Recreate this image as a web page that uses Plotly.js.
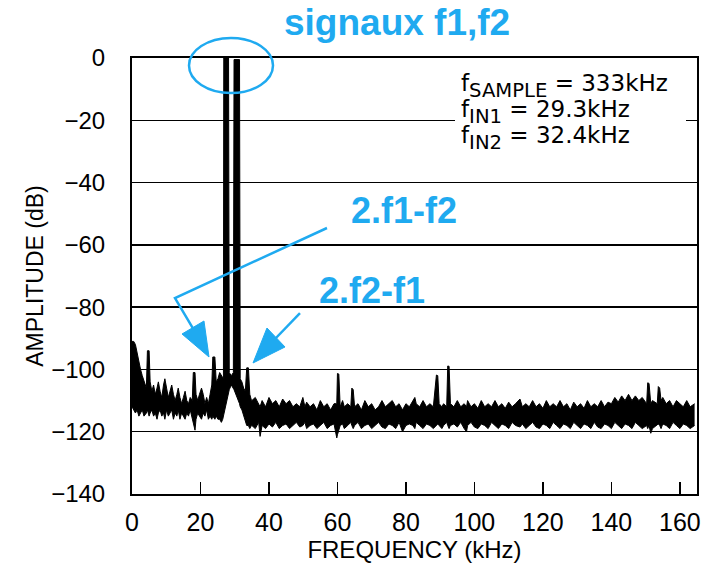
<!DOCTYPE html>
<html>
<head>
<meta charset="utf-8">
<script src="https://cdn.plot.ly/plotly-3.0.1.min.js"></script>
<style>
html,body{margin:0;padding:0;background:#fff;}
#chart{width:715px;height:568px;}
</style>
</head>
<body>
<div id="chart"></div>
<script>
// ---- Data ----
// Frequency points (kHz)
const freqKHz = [
  0, 0.5, 1, 1.5, 2, 2.5, 3, 3.5,
  4.2, 4.5, 5.0, 5.3, 5.8, 6.3, 6.8, 7.3, 7.7, 8.2,
  8.7, 9.2, 9.6, 10.1, 10.6, 11.1, 11.6, 12.1, 12.6, 13.1,
  13.5, 14, 14.5, 15, 15.5, 16, 16.5, 17, 17.6, 17.9,
  18.4, 18.7, 19.2, 19.7, 20.3, 20.8, 21.3, 21.8, 22.3, 22.8,
  23.3, 23.6, 24.2, 24.6, 25.1, 25.6, 26.1, 26.5, 26.7, 26.8,
  28.2, 28.4, 29.0, 29.6, 29.8, 31.4, 31.6, 32.1, 32.6, 33.1,
  33.5, 34.0, 34.4, 34.9,
  35, 36, 37, 37.4, 38, 39, 40, 41, 42, 43,
  44, 45, 46, 47, 48, 49, 49.9, 50.5, 51, 52,
  53, 54, 55, 56, 57, 58, 59, 59.8, 60.0, 60.4,
  60.8, 61.5, 62, 63, 63.9, 64.2, 64.6, 65, 66, 67,
  68, 69, 70, 71, 72, 73, 74, 75, 76, 77,
  78, 79, 80, 81, 82, 82.6, 83, 84, 85, 86,
  87, 88, 88.9, 89.3, 89.7, 90.5, 91, 91.9, 92.2, 92.6,
  93, 94, 95, 96, 97, 97.7, 98, 99, 100, 101,
  102, 103, 104, 105, 106, 107, 108, 109, 110, 111,
  112, 113.3, 114, 115, 116, 117, 118, 119, 120, 121,
  122, 123, 124, 125, 126, 127, 128, 129, 130, 131,
  132, 133, 134, 135, 136, 137, 138, 139, 140, 141,
  142, 143, 144, 145, 146, 147, 148, 149, 150.3, 150.6,
  151.0, 151.5, 152, 153.4, 153.7, 154.1, 154.5, 155, 156, 157,
  158, 159, 160, 161, 162, 163, 164.3
];
// Upper edge of the spectrum trace (dB)
const noiseTopDb = [
  -91, -91, -92, -95, -97, -100, -102, -104,
  -106, -94, -94, -104, -107, -105, -108, -106, -104, -107,
  -109, -105, -103, -106, -109, -107, -105, -108, -110, -108,
  -106, -109, -111, -109, -107, -110, -111, -109, -110, -101,
  -101, -108, -110, -108, -106, -108, -111, -109, -111, -108,
  -105, -96, -96, -104, -103, -101, -102, -103, -103, 0,
  0, -101, -102, -101, -0.5, -0.5, -103, -104, -106, -107,
  -99.5, -99.5, -108, -110,
  -110, -109, -111, -112, -110, -112, -109, -111, -110, -112,
  -109.5, -111, -110, -112, -111, -112, -109, -112, -110.5, -112,
  -111, -113, -110, -112, -111, -113, -111, -111, -101.3, -101.5,
  -112, -110, -112, -111, -112, -106, -106.5, -112, -111, -113,
  -110, -112, -111, -113, -112, -110, -112, -111, -110, -112,
  -111, -113, -111, -112, -110, -109, -111, -112, -110, -112,
  -111, -112, -101.8, -102, -111, -112, -111, -112, -98.9, -99,
  -111, -112, -110, -112, -111, -112, -110, -112, -111, -112.5,
  -110, -112, -111, -112, -110, -112, -111, -112.5, -110.5, -112,
  -111, -109.5, -112, -111, -112, -110, -112, -111, -112.5, -110,
  -112, -111, -112, -110, -112, -111, -113, -110.5, -112, -111,
  -112.5, -110, -112, -111, -112, -110, -112, -110.5, -111, -109,
  -110.5, -108.5, -110, -108, -110, -108.5, -110, -109, -111, -104.3,
  -104.5, -111, -110, -111, -105.5, -106, -110, -109, -111, -110,
  -112, -110, -111, -112, -110, -112, -111
];
// Lower edge of the spectrum trace (dB)
const noiseBottomDb = [
  -112, -113, -114, -113, -115, -114, -113, -115,
  -114, -113, -115, -114, -113, -115, -114, -116, -114, -113,
  -115, -114, -116, -113, -115, -114, -113, -116, -114, -115,
  -113, -116, -114, -115, -116, -114, -115, -113, -116, -118,
  -119.5, -116, -114, -115, -116, -114, -115, -113, -116, -115,
  -116, -115, -116, -115, -116, -116, -117, -116, -115, -114,
  -107, -106.5, -105, -106, -106.5, -111, -112, -113, -115, -117,
  -118, -118, -119, -118,
  -118, -119, -117, -121.5, -118, -119, -117.5, -118.5, -117, -119,
  -118, -117.5, -119, -118, -117, -118.5, -118, -117, -119, -118,
  -117.5, -119, -118, -117, -119, -118, -117.5, -122, -121, -119,
  -118, -117.5, -119, -118, -117, -118, -119, -118, -117, -119,
  -118, -117.5, -119, -118, -117, -118.5, -119, -117.5, -118, -119,
  -117, -120, -118, -117.5, -118, -119, -117, -118, -119, -117.5,
  -118, -119, -118, -117.5, -118, -119, -118, -117, -118, -119,
  -118, -117.5, -118.5, -117, -119, -120, -118, -117, -118.5, -119,
  -117.5, -118, -119, -117, -118, -119, -117.5, -118, -119, -117,
  -118, -118.5, -117.5, -119, -118, -117, -118.5, -119, -117.5, -118,
  -119, -117, -118, -119, -117.5, -118, -119, -117, -118, -119,
  -117.5, -118, -119, -117, -118.5, -119, -117.5, -118, -119, -117,
  -118, -119, -117.5, -118, -119, -117, -118, -119, -118, -119,
  -118, -120.5, -119, -118, -117.5, -118, -119, -117.5, -118, -119,
  -117, -118, -119, -117.5, -118, -119, -118
];
const xTickVals = [0, 20, 40, 60, 80, 100, 120, 140, 160];
const yTickVals = [0, -20, -40, -60, -80, -100, -120, -140];
const infoNames = ["SAMPLE", "IN1", "IN2"];
const infoValues = ["333kHz", "29.3kHz", "32.4kHz"];
const labelSignals = "signaux f1,f2";
const labelImd1 = "2.f1-f2";
const labelImd2 = "2.f2-f1";

// ---- Layout helpers (pixel -> paper) ----
const L = 132, R = 18, T = 58, B = 74, W = 715, H = 568;
const PW = W - L - R, PH = H - T - B;
function px(x) { return (x - L) / PW; }
function py(y) { return (H - B - y) / PH; }
function path(pts, close) {
  return pts.map((p, i) => (i ? 'L' : 'M') + px(p[0]).toFixed(4) + ',' + py(p[1]).toFixed(4)).join(' ') + (close ? ' Z' : '');
}
const BLUE = '#1FAAF0';
const FONT = 'Liberation Sans, Arial, Helvetica, sans-serif';
const INFO_FONT = 'DejaVu Sans, Liberation Sans, sans-serif';

const traces = [
  { x: freqKHz, y: noiseBottomDb, type: 'scatter', mode: 'lines',
    line: { color: '#000', width: 1 }, hoverinfo: 'skip', showlegend: false },
  { x: freqKHz, y: noiseTopDb, type: 'scatter', mode: 'lines', fill: 'tonexty',
    fillcolor: '#000', line: { color: '#000', width: 1 }, showlegend: false }
];

const infoY = [86, 112, 138];
const infoAnn = infoNames.map((n, i) => ({
  xref: 'paper', yref: 'paper', x: px(460), y: py(infoY[i]), xanchor: 'left', yanchor: 'middle', align: 'left',
  text: 'f<span style="font-size:28px"><sub>' + n + '</sub></span> = ' + infoValues[i],
  showarrow: false, borderpad: 0,
  font: { family: INFO_FONT, size: 23, color: '#000' }
}));

const layout = {
  width: W, height: H,
  margin: { l: L, r: R, t: T, b: B, pad: 0 },
  paper_bgcolor: '#fff', plot_bgcolor: '#fff',
  showlegend: false,
  font: { family: FONT, size: 22, color: '#000' },
  xaxis: {
    range: [0, 165], tickvals: xTickVals, ticks: 'inside', ticklen: 12, tickwidth: 1.5, tickcolor: '#000',
    showline: true, linecolor: '#000', linewidth: 2, mirror: true, showgrid: false, zeroline: false,
    tickfont: { family: FONT, size: 25, color: '#000' }, ticklabelstandoff: 5,
    title: { text: 'FREQUENCY (kHz)', font: { family: FONT, size: 24, color: '#000' }, standoff: 6 },
    fixedrange: true
  },
  yaxis: {
    range: [-140, 0], tickvals: yTickVals, ticks: '', showline: true, linecolor: '#000', linewidth: 2, mirror: true,
    showgrid: true, gridcolor: '#000', gridwidth: 1.5, zeroline: false,
    tickfont: { family: FONT, size: 24, color: '#000' }, ticklabelstandoff: 20,
    title: { text: 'AMPLITUDE (dB)', font: { family: FONT, size: 23, color: '#000' }, standoff: 1 },
    fixedrange: true
  },
  shapes: [
    // white backing behind the parameter text (hides the -20 dB grid line there)
    { type: 'rect', xref: 'paper', yref: 'paper', x0: px(455), x1: px(686), y0: py(126), y1: py(114),
      fillcolor: '#fff', line: { width: 0 }, layer: 'above' },
    { type: 'circle', xref: 'paper', yref: 'paper', x0: px(189), x1: px(273), y0: py(93), y1: py(38),
      line: { color: BLUE, width: 2.5 } },
    { type: 'path', xref: 'paper', yref: 'paper', path: path([[327, 228], [175, 298], [194, 330]]),
      line: { color: BLUE, width: 2.5 } },
    { type: 'path', xref: 'paper', yref: 'paper', path: path([[209, 357], [182, 334], [204, 321]], true),
      fillcolor: BLUE, line: { color: BLUE, width: 1 } },
    { type: 'path', xref: 'paper', yref: 'paper', path: path([[300, 313], [275, 339]]),
      line: { color: BLUE, width: 2.5 } },
    { type: 'path', xref: 'paper', yref: 'paper', path: path([[253, 363], [285, 347], [267, 328]], true),
      fillcolor: BLUE, line: { color: BLUE, width: 1 } }
  ],
  annotations: infoAnn.concat([
    { xref: 'paper', yref: 'paper', x: px(397), y: py(23), xanchor: 'center', yanchor: 'middle',
      text: '<b>' + labelSignals + '</b>', showarrow: false, font: { family: FONT, size: 37, color: BLUE } },
    { xref: 'paper', yref: 'paper', x: px(404), y: py(210), xanchor: 'center', yanchor: 'middle',
      text: '<b>' + labelImd1 + '</b>', showarrow: false, font: { family: FONT, size: 36, color: BLUE } },
    { xref: 'paper', yref: 'paper', x: px(372), y: py(290), xanchor: 'center', yanchor: 'middle',
      text: '<b>' + labelImd2 + '</b>', showarrow: false, font: { family: FONT, size: 36, color: BLUE } }
  ])
};

Plotly.newPlot('chart', traces, layout, { displayModeBar: false, staticPlot: true });
</script>
</body>
</html>
